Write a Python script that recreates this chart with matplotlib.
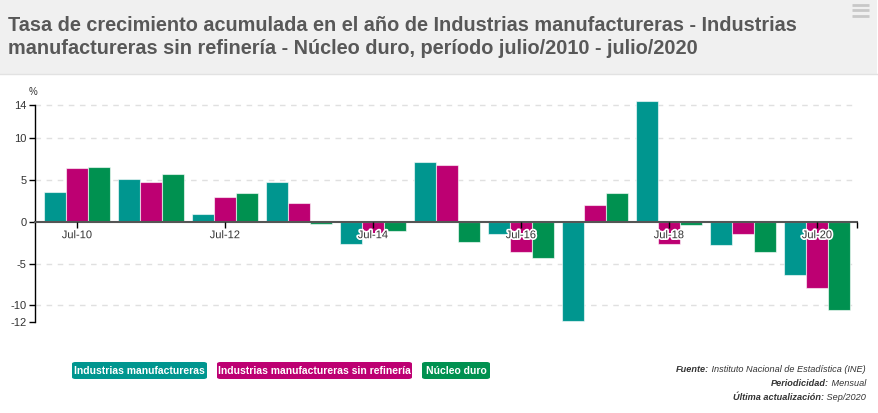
import matplotlib
matplotlib.use("Agg")
import matplotlib.pyplot as plt
import matplotlib.patheffects as pe
from matplotlib.patches import FancyBboxPatch, Rectangle
from matplotlib import font_manager
import numpy as np

# ---------------- data ----------------
years = ["Jul-10", "Jul-11", "Jul-12", "Jul-13", "Jul-14", "Jul-15",
         "Jul-16", "Jul-17", "Jul-18", "Jul-19", "Jul-20"]
manufactureras = [3.6, 5.08, 0.96, 4.8, -2.64, 7.2, -1.4, -11.92, 14.48, -2.72, -6.32]
sin_refineria = [6.48, 4.8, 2.92, 2.2, -1.3, 6.8, -3.6, 2.04, -2.64, -1.44, -7.88]
nucleo_duro = [6.6, 5.76, 3.48, -0.28, -1.04, -2.36, -4.28, 3.44, -0.32, -3.6, -10.52]
series_names = ["Industrias manufactureras", "Industrias manufactureras sin refinería", "Núcleo duro"]
y_ticks = [14, 10, 5, 0, -5, -10, -12]
title_lines = ["Tasa de crecimiento acumulada en el año de Industrias manufactureras - Industrias",
               "manufactureras sin refinería - Núcleo duro, período julio/2010 - julio/2020"]
source_lines = [("Fuente:", " Instituto Nacional de Estadística (INE)"),
                ("Periodicidad:", " Mensual"),
                ("Última actualización:", " Sep/2020")]

colors = ["#00968f", "#bd0072", "#009150"]

avail = {f.name for f in font_manager.fontManager.ttflist}
base_font = "Liberation Sans" if "Liberation Sans" in avail else "DejaVu Sans"
plt.rcParams["font.family"] = [base_font, "DejaVu Sans"]

W, H = 879, 413
fig = plt.figure(figsize=(W / 100, H / 100), dpi=100)

def fx(px):
    return px / W

def fy(py):
    return 1 - py / H

# header
fig.patches.append(Rectangle((0, fy(74)), fx(877), 74 / H, transform=fig.transFigure,
                             fc="#f0f0f0", ec="none", zorder=0))
fig.add_artist(plt.Line2D([0, fx(877)], [fy(74), fy(74)], transform=fig.transFigure,
                          color="#e2e2e2", lw=1))
for k, line in enumerate(title_lines):
    fig.text(fx(8), fy(31 + 23 * k), line, fontsize=14.3, fontweight="bold", color="#585858",
             ha="left", va="baseline")
for yy in (4.5, 10, 15.5):
    fig.add_artist(plt.Line2D([fx(852), fx(869)], [fy(yy), fy(yy)], transform=fig.transFigure,
                              color="#c8c8c8", lw=2, solid_capstyle="butt"))

# axes
left, right = 35, 857
top, bottom = 100, 322
ax = fig.add_axes([fx(left), fy(bottom), (right - left) / W, (bottom - top) / H])
ax.set_facecolor("none")

x = np.arange(len(years))
bw = 0.297
for i, (vals, c) in enumerate(zip([manufactureras, sin_refineria, nucleo_duro], colors)):
    ax.bar(x + (i - 1) * bw, vals, width=bw, color=c, edgecolor=(1, 1, 1, 0.6),
           linewidth=0.8, zorder=2)

ax.set_xlim(-0.568, 10.54)
ax.set_ylim(-12, 14.6)

for v in y_ticks:
    if v not in (0, -12):
        ax.axhline(v, color="#e0e0e0", lw=1, dashes=(4, 4), zorder=1)

for s in ("top", "right"):
    ax.spines[s].set_visible(False)
ax.spines["left"].set_bounds(-12, 14)
ax.spines["left"].set_color("black")
ax.spines["left"].set_linewidth(1)
ax.spines["bottom"].set_position(("data", 0))
ax.spines["bottom"].set_color("#555555")
ax.spines["bottom"].set_linewidth(1.5)
ax.spines["bottom"].set_zorder(3)
ax.xaxis.set_zorder(4)

ax.set_yticks(y_ticks)
ax.set_yticklabels([str(v) for v in y_ticks])
ax.tick_params(axis="y", length=4, width=1, color="black", labelsize=8,
               labelcolor="#333333", pad=2)

xt = x[::2]
ax.set_xticks(xt)
ax.set_xticklabels([years[i] for i in xt])
ax.set_xticks([ax.get_xlim()[1]], minor=True)
ax.tick_params(axis="x", which="both", length=4, width=1, color="black", labelsize=8,
               labelcolor="#333333", pad=2, direction="out")
for lab in ax.get_xticklabels():
    lab.set_path_effects([pe.withStroke(linewidth=2.5, foreground="white")])

fig.text(fx(33), fy(92), "%", fontsize=7, color="#333333", ha="center", va="center")

# legend boxes
boxes = [(72, 207), (217, 412), (422, 490)]
for (x0, x1), name, c in zip(boxes, series_names, colors):
    fig.patches.append(FancyBboxPatch((fx(x0), fy(379)), fx(x1 - x0), 17 / H,
                                      boxstyle="round,pad=0,rounding_size=0.004",
                                      transform=fig.transFigure, fc=c, ec="none"))
    fig.text(fx((x0 + x1) / 2), fy(370.5), name, fontsize=7.5, fontweight="bold",
             color="white", ha="center", va="center")

# source text
fig.canvas.draw()
renderer = fig.canvas.get_renderer()
for k, (lab, val) in enumerate(source_lines):
    yy = fy(369 + 14 * k)
    t = fig.text(fx(866), yy, val, fontsize=6.6, style="italic", color="#333333",
                 ha="right", va="center")
    bb = t.get_window_extent(renderer)
    fig.text(bb.x0 / W, yy, lab, fontsize=6.6, style="italic", fontweight="bold",
             color="#333333", ha="right", va="center")

fig.savefig("out.png", dpi=100)
